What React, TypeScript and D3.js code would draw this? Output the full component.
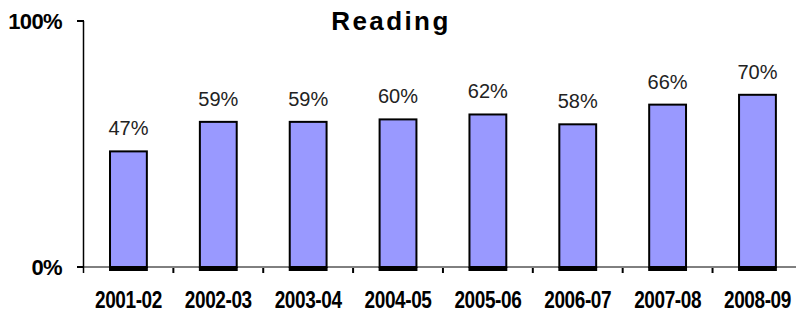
import React, { useRef, useEffect } from 'react';
import * as d3 from 'd3';

const categories = ['2001-02', '2002-03', '2003-04', '2004-05', '2005-06', '2006-07', '2007-08', '2008-09'];
const values = [47, 59, 59, 60, 62, 58, 66, 70];
const yTicks = [0, 100];
const title = 'Reading';

const FONT = 'Arial, "Liberation Sans", sans-serif';

const ReadingChart = () => {
  const ref = useRef<SVGSVGElement>(null);

  useEffect(() => {
    document.body.style.margin = '0';
    if (!ref.current) return;
    const svg = d3.select(ref.current);
    svg.selectAll('*').remove();

    const width = 796;
    const height = 314;
    svg.attr('width', width).attr('height', height);

    // 카테고리 슬롯 (축 눈금은 슬롯 경계)
    const x = d3.scaleBand().domain(categories).range([83.5, 802.4]).padding(0);
    const y = d3.scaleLinear().domain([0, 100]).range([267, 21]);
    const barW = x.bandwidth() * 0.41;

    // 제목
    svg
      .append('text')
      .text(title)
      .attr('x', 391)
      .attr('y', 30)
      .attr('text-anchor', 'middle')
      .attr('font-size', 26)
      .attr('font-weight', 'bold')
      .attr('letter-spacing', 2.4)
      .style('font-family', FONT);

    // 막대
    const bars = svg.append('g');
    bars
      .selectAll('rect')
      .data(values)
      .enter()
      .append('rect')
      .attr('x', (d, i) => (x(categories[i]) as number) + (x.bandwidth() - barW) / 2)
      .attr('y', (d) => y(d))
      .attr('width', barW)
      .attr('height', (d) => y(0) - y(d))
      .attr('fill', '#9999ff')
      .attr('stroke', '#000')
      .attr('stroke-width', 2);

    // 막대 아래 굵은 선
    bars
      .selectAll('line')
      .data(values)
      .enter()
      .append('line')
      .attr('x1', (d, i) => (x(categories[i]) as number) + (x.bandwidth() - barW) / 2 - 1)
      .attr('x2', (d, i) => (x(categories[i]) as number) + (x.bandwidth() + barW) / 2 + 1)
      .attr('y1', y(0) + 2)
      .attr('y2', y(0) + 2)
      .attr('stroke', '#000')
      .attr('stroke-width', 4);

    // 값 레이블
    svg
      .append('g')
      .selectAll('text')
      .data(values)
      .enter()
      .append('text')
      .text((d) => `${d}%`)
      .attr('x', (d, i) => (x(categories[i]) as number) + x.bandwidth() / 2)
      .attr('y', (d) => y(d) - 16)
      .attr('text-anchor', 'middle')
      .attr('font-size', 20)
      .attr('fill', '#222')
      .style('font-family', FONT);

    // Y축
    const axis = svg.append('g').attr('stroke', '#000');
    axis
      .append('line')
      .attr('x1', 83.5)
      .attr('x2', 83.5)
      .attr('y1', y(100))
      .attr('y2', y(0) + 6)
      .attr('stroke-width', 1.5);
    axis
      .selectAll('line.yt')
      .data(yTicks)
      .enter()
      .append('line')
      .attr('class', 'yt')
      .attr('x1', 77)
      .attr('x2', 84)
      .attr('y1', (d) => y(d))
      .attr('y2', (d) => y(d))
      .attr('stroke-width', 2);
    svg
      .append('g')
      .selectAll('text')
      .data(yTicks)
      .enter()
      .append('text')
      .text((d) => `${d}%`)
      .attr('x', 62)
      .attr('y', (d) => y(d) + 7.5)
      .attr('text-anchor', 'end')
      .attr('font-size', 22)
      .attr('font-weight', 'bold')
      .attr('letter-spacing', -0.6)
      .style('font-family', FONT);

    // X축
    axis
      .append('line')
      .attr('x1', 83.5)
      .attr('x2', width)
      .attr('y1', y(0))
      .attr('y2', y(0))
      .attr('stroke-width', 1);
    axis
      .selectAll('line.xt')
      .data(categories.slice(1))
      .enter()
      .append('line')
      .attr('class', 'xt')
      .attr('x1', (d) => x(d) as number)
      .attr('x2', (d) => x(d) as number)
      .attr('y1', y(0) + 1)
      .attr('y2', y(0) + 6)
      .attr('stroke-width', 2);

    svg
      .append('g')
      .selectAll('text')
      .data(categories)
      .enter()
      .append('text')
      .text((d) => d)
      .attr(
        'transform',
        (d) => `translate(${(x(d) as number) + x.bandwidth() / 2},${291}) scale(1,1.28)`
      )
      .attr('y', 13.6)
      .attr('text-anchor', 'middle')
      .attr('font-size', 19)
      .attr('font-weight', 'bold')
      .attr('letter-spacing', -0.4)
      .style('font-family', FONT);
  }, []);

  return <svg ref={ref} style={{ display: 'block' }} />;
};

export default function App() {
  return <ReadingChart />;
}
